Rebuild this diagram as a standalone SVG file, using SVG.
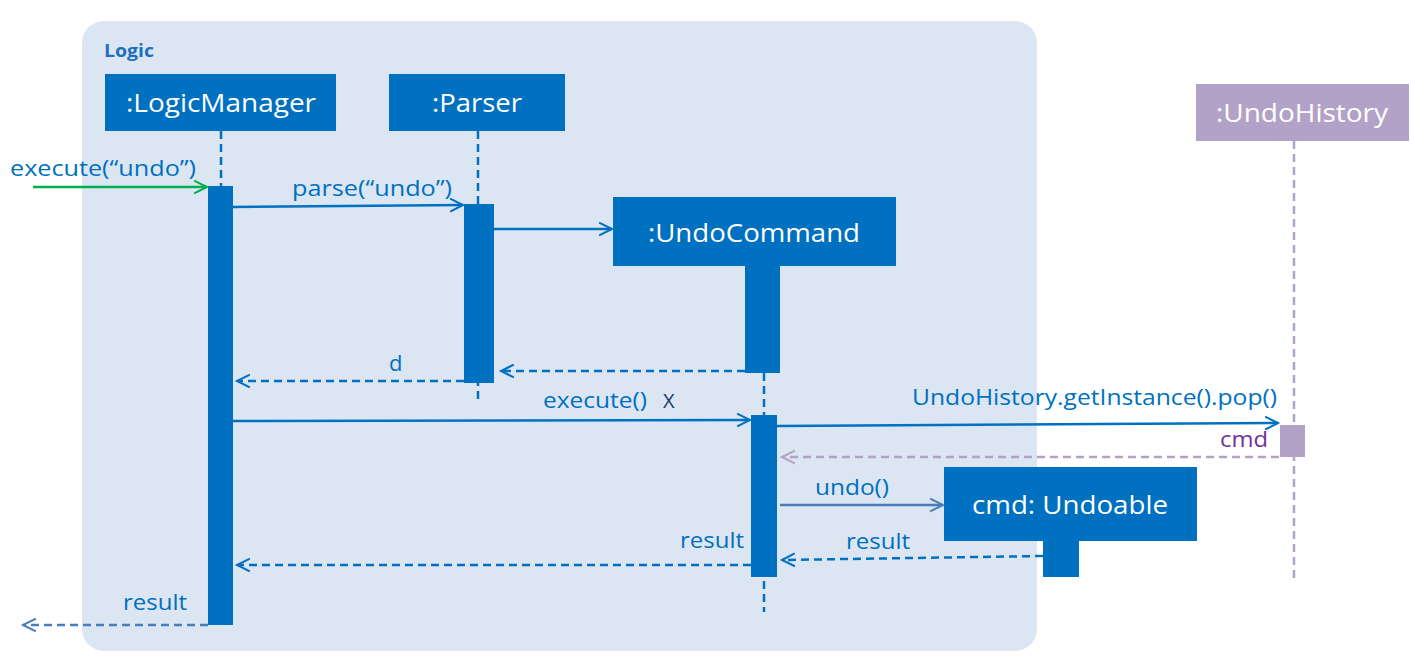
<svg xmlns="http://www.w3.org/2000/svg" width="1411" height="665" viewBox="0 0 1411 665">
  <defs>
    <style>
      .lbl { font-family: "Open Sans", "Liberation Sans", sans-serif; font-size: 22px; fill: #0070C0; }
      .title { font-family: "Open Sans", "Liberation Sans", sans-serif; font-size: 26px; fill: #FFFFFF; text-anchor: middle; }
      .box { fill: #0070C0; }
      .life { stroke: #0070C0; stroke-width: 2.5; stroke-dasharray: 8 5; fill: none; }
    </style>
    <marker id="openD" viewBox="0 0 12 12" refX="11" refY="6" markerWidth="11" markerHeight="11" markerUnits="userSpaceOnUse" orient="auto" overflow="visible">
      <path d="M-3,-1 L11,6 L-3,13" fill="none" stroke="#0070C0" stroke-width="2.2"/>
    </marker>
    <marker id="openG" viewBox="0 0 12 12" refX="11" refY="6" markerWidth="11" markerHeight="11" markerUnits="userSpaceOnUse" orient="auto" overflow="visible">
      <path d="M-3,-1 L11,6 L-3,13" fill="none" stroke="#00B050" stroke-width="2.2"/>
    </marker>
    <marker id="openB" viewBox="0 0 12 12" refX="11" refY="6" markerWidth="11" markerHeight="11" markerUnits="userSpaceOnUse" orient="auto" overflow="visible">
      <path d="M-3,-1 L11,6 L-3,13" fill="none" stroke="#4A7EBB" stroke-width="2.2"/>
    </marker>
    <marker id="openP" viewBox="0 0 12 12" refX="11" refY="6" markerWidth="11" markerHeight="11" markerUnits="userSpaceOnUse" orient="auto" overflow="visible">
      <path d="M-3,-1 L11,6 L-3,13" fill="none" stroke="#B3A2C7" stroke-width="2.2"/>
    </marker>
  </defs>

  <rect width="1411" height="665" fill="#FFFFFF"/>

  <!-- Logic component frame -->
  <g id="logic-frame">
    <rect x="82" y="21" width="955" height="630" rx="22" ry="22" fill="#DCE6F2"/>
    <text x="104" y="57" font-family="'Open Sans', 'Liberation Sans', sans-serif" font-size="18" font-weight="bold" fill="#1F6FBF" textLength="50" lengthAdjust="spacingAndGlyphs">Logic</text>
  </g>

  <!-- lifelines -->
  <g id="lifelines">
    <line class="life" x1="221" y1="131" x2="221" y2="186"/>
    <line class="life" x1="478" y1="131" x2="478" y2="400"/>
    <line class="life" x1="764" y1="373" x2="764" y2="612"/>
    <line x1="1294" y1="141" x2="1294" y2="583" stroke="#B3A2C7" stroke-width="2.5" stroke-dasharray="8 5"/>
  </g>

  <g id="logicManager">
    <rect class="box" x="105" y="74" width="231" height="57"/>
    <text class="title" x="221" y="112" textLength="190" lengthAdjust="spacingAndGlyphs">:LogicManager</text>
    <rect class="box" x="208" y="186" width="25" height="439"/>
  </g>

  <g id="parser">
    <rect class="box" x="389" y="74" width="176" height="57"/>
    <text class="title" x="477" y="112" textLength="90" lengthAdjust="spacingAndGlyphs">:Parser</text>
    <rect class="box" x="464" y="204" width="30" height="179"/>
  </g>

  <g id="undoCommand">
    <rect class="box" x="613" y="197" width="283" height="69"/>
    <text class="title" x="754" y="242" textLength="212" lengthAdjust="spacingAndGlyphs">:UndoCommand</text>
    <rect class="box" x="745" y="266" width="35" height="107"/>
    <rect class="box" x="751" y="415" width="26" height="162"/>
  </g>

  <g id="undoHistory">
    <rect x="1196" y="84" width="213" height="57" fill="#B3A2C7"/>
    <text class="title" x="1302" y="122" textLength="172" lengthAdjust="spacingAndGlyphs">:UndoHistory</text>
    <rect x="1280" y="425" width="25" height="32" fill="#B3A2C7"/>
  </g>

  <g id="undoable">
    <rect class="box" x="944" y="467" width="253" height="74"/>
    <text class="title" x="1070" y="514" textLength="196" lengthAdjust="spacingAndGlyphs">cmd: Undoable</text>
    <rect class="box" x="1043" y="541" width="36" height="36"/>
  </g>

  <!-- messages -->
  <g id="connectors">
    <line x1="33" y1="187" x2="207" y2="187" stroke="#00B050" stroke-width="2.5" marker-end="url(#openG)"/>
    <line x1="233" y1="207" x2="463" y2="205" stroke="#0070C0" stroke-width="2.5" marker-end="url(#openD)"/>
    <line x1="494" y1="229" x2="612" y2="229" stroke="#0070C0" stroke-width="2.5" marker-end="url(#openD)"/>
    <line x1="745" y1="371" x2="501" y2="371" stroke="#0070C0" stroke-width="2.5" stroke-dasharray="8 5" marker-end="url(#openD)"/>
    <line x1="464" y1="381" x2="237" y2="381" stroke="#0070C0" stroke-width="2.5" stroke-dasharray="8 5" marker-end="url(#openD)"/>
    <line x1="233" y1="421" x2="750" y2="420" stroke="#0070C0" stroke-width="2.5" marker-end="url(#openD)"/>
    <line x1="777" y1="426" x2="1278" y2="423" stroke="#0070C0" stroke-width="2.5" marker-end="url(#openD)"/>
    <line x1="1279" y1="457" x2="782" y2="457" stroke="#B3A2C7" stroke-width="2.5" stroke-dasharray="8 5" marker-end="url(#openP)"/>
    <line x1="780" y1="505" x2="943" y2="505" stroke="#4A7EBB" stroke-width="2.5" marker-end="url(#openB)"/>
    <line x1="1043" y1="556" x2="782" y2="560" stroke="#0070C0" stroke-width="2.5" stroke-dasharray="8 5" marker-end="url(#openD)"/>
    <line x1="751" y1="565" x2="237" y2="565" stroke="#0070C0" stroke-width="2.5" stroke-dasharray="8 5" marker-end="url(#openD)"/>
    <line x1="208" y1="625" x2="23" y2="625" stroke="#4A7EBB" stroke-width="2.5" stroke-dasharray="8 5" marker-end="url(#openB)"/>
  </g>

  <!-- message labels -->
  <g id="labels">
    <text class="lbl" x="10" y="176" textLength="186" lengthAdjust="spacingAndGlyphs">execute(“undo”)</text>
    <text class="lbl" x="292" y="196" textLength="160" lengthAdjust="spacingAndGlyphs">parse(“undo”)</text>
    <text class="lbl" x="389" y="371">d</text>
    <text class="lbl" x="543" y="408" textLength="104" lengthAdjust="spacingAndGlyphs">execute()</text>
    <text x="663" y="408" font-family="'Open Sans', 'Liberation Sans', sans-serif" font-size="20" fill="#1F3864">X</text>
    <text class="lbl" x="912" y="405" textLength="365" lengthAdjust="spacingAndGlyphs">UndoHistory.getInstance().pop()</text>
    <text x="1220" y="447" font-family="'Open Sans', 'Liberation Sans', sans-serif" font-size="22" fill="#7030A0" textLength="48" lengthAdjust="spacingAndGlyphs">cmd</text>
    <text class="lbl" x="815" y="495" textLength="74" lengthAdjust="spacingAndGlyphs">undo()</text>
    <text class="lbl" x="846" y="549" textLength="64" lengthAdjust="spacingAndGlyphs">result</text>
    <text class="lbl" x="680" y="548" textLength="64" lengthAdjust="spacingAndGlyphs">result</text>
    <text class="lbl" x="123" y="610" textLength="64" lengthAdjust="spacingAndGlyphs">result</text>
  </g>
</svg>
